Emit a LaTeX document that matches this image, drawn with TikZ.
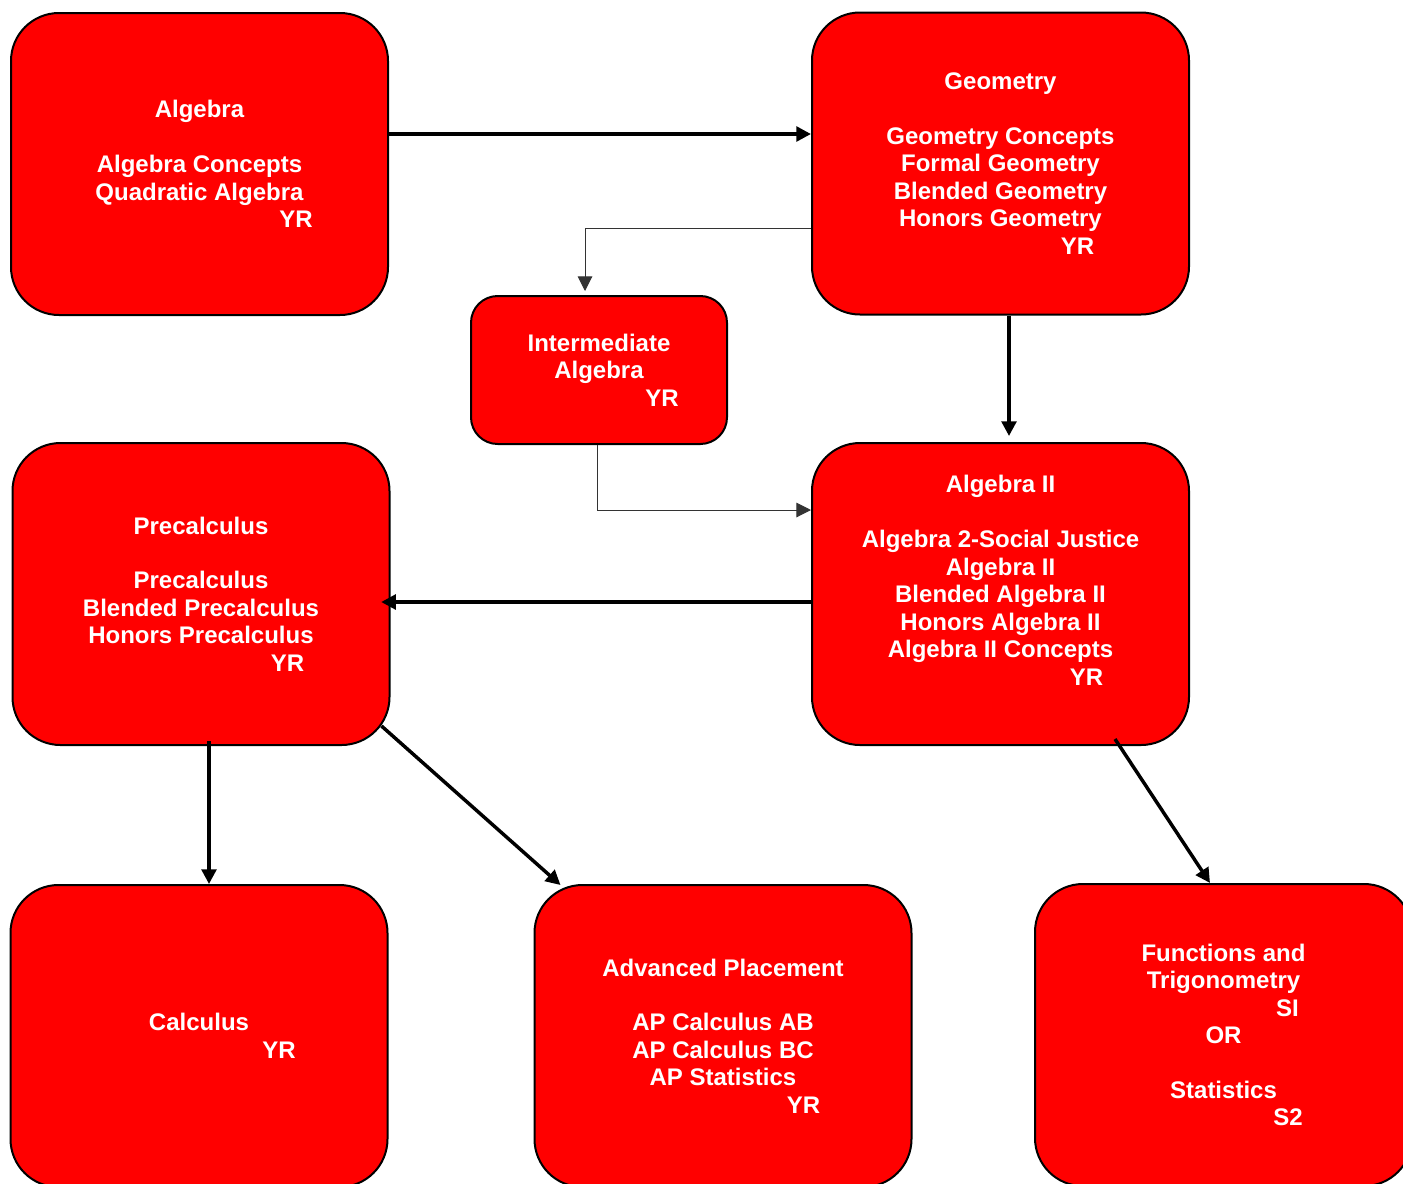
\documentclass[tikz,border=0pt]{standalone}
\usepackage{fontspec}
\setmainfont{Liberation Sans}
\usetikzlibrary{arrows.meta,calc}
\begin{document}
\begin{tikzpicture}[x=0.75pt,y=-0.75pt,
  bigbox/.style={draw=black,line width=1.5pt,fill=red,text=white,rounded corners=36pt,
    minimum width=282.75pt,minimum height=226.5pt,inner sep=0pt,align=center,
    font=\fontsize{18}{20.6}\selectfont\bfseries},
  smallbox/.style={bigbox,rounded corners=20pt,minimum width=192pt,minimum height=111pt},
  thickarrow/.style={line width=2.6pt,-{Triangle[length=11pt,width=11pt]}},
  thinarrow/.style={line width=0.75pt,draw=black!80,-{Triangle[length=11pt,width=11pt]}}]
\useasboundingbox (0,0) rectangle (1403,1183);
\clip (0,0) rectangle (1403,1183);
\node[bigbox] (alg) at (199.5,164) {Algebra\\[20.6pt]Algebra Concepts\\Quadratic Algebra\\\hspace*{144.75pt}YR};
\node[bigbox] (geo) at (1000.5,163.5) {Geometry\\[20.6pt]Geometry Concepts\\Formal Geometry\\Blended Geometry\\Honors Geometry\\\hspace*{115.5pt}YR};
\node[smallbox] (inter) at (599,370) {Intermediate\\Algebra\\\hspace*{94.5pt}YR};
\node[bigbox] (pre) at (201,594) {Precalculus\\[20.6pt]Precalculus\\Blended Precalculus\\Honors Precalculus\\\hspace*{129.75pt}YR};
\node[bigbox] (alg2) at (1000.5,594) {Algebra II\\[20.6pt]Algebra 2-Social Justice\\Algebra II\\Blended Algebra II\\Honors Algebra II\\Algebra II Concepts\\\hspace*{129pt}YR\\~};
\node[bigbox] (calc) at (199,1036) {Calculus\\\hspace*{120pt}YR};
\node[bigbox] (ap) at (723,1036) {Advanced Placement\\[20.6pt]AP Calculus AB\\AP Calculus BC\\AP Statistics\\\hspace*{120.75pt}YR};
\node[bigbox] (fun) at (1223.5,1035) {Functions and\\Trigonometry\\\hspace*{96pt}SI\\OR\\[20.6pt]Statistics\\\hspace*{96.75pt}S2};
% connectors
\coordinate (algout) at ($(alg.east)+(0,-30)$);
\draw[thickarrow] (algout) -- (algout -| geo.west);
\draw[thinarrow,shorten >=3pt] ([yshift=-48.4pt]geo.west) -| ([xshift=-10.5pt]inter.north);
\coordinate (geoout) at ($(geo.south)+(8.5,0)$);
\draw[thickarrow,shorten >=4.5pt] (geoout) -- (geoout |- alg2.north);
\draw[thinarrow] ([xshift=-1.5pt]inter.south) |- ([yshift=63pt]alg2.west);
\draw[thickarrow,shorten >=-7pt] ([yshift=-6pt]alg2.west) -- ([yshift=-6pt]pre.east);
\coordinate (preout2) at ($(pre.south)+(8,-5)$);
\draw[thickarrow] (preout2) -- (preout2 |- calc.north);
\coordinate (preout) at ($(pre.south east)+(-9,-20)$);
\coordinate (apin) at ($(ap.north west)+(27,1)$);
\draw[thickarrow] (preout) -- (apin);
\coordinate (alg2out) at ($(alg2.south)+(114.5,-7)$);
\coordinate (funin) at ($(fun.north)+(-13.5,0)$);
\draw[thickarrow] (alg2out) -- (funin);
\end{tikzpicture}
\end{document}
